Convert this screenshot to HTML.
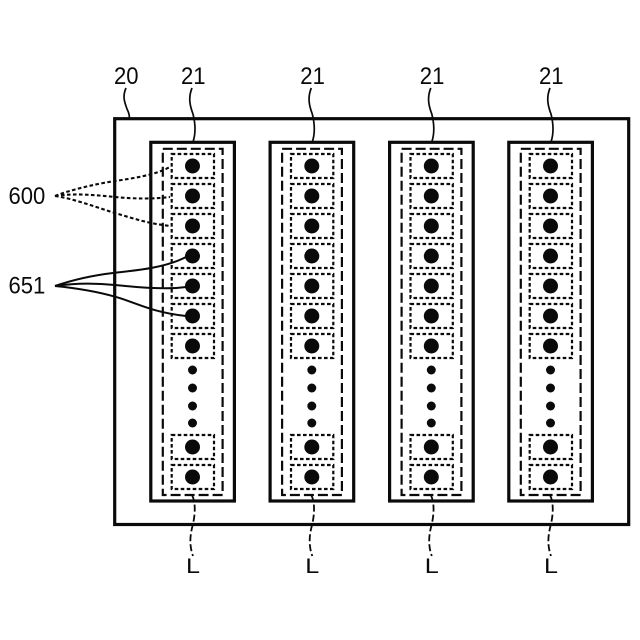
<!DOCTYPE html>
<html>
<head>
<meta charset="utf-8">
<style>
html,body{margin:0;padding:0;background:#fff}
svg{display:block}
text{font-family:"Liberation Sans",sans-serif;font-size:24px;fill:#0a0a0a}
</style>
</head>
<body>
<svg width="640" height="640" viewBox="0 0 640 640" xmlns="http://www.w3.org/2000/svg">
<defs>
<g id="cell">
<rect x="171.7" y="-12" width="42.3" height="24" fill="none" stroke="#0a0a0a" stroke-width="2.2" stroke-dasharray="3.6 2.4"/>
<circle cx="192.5" cy="0" r="7.5" fill="#0a0a0a"/>
</g>
<g id="col">
<rect x="150.8" y="142.3" width="83.6" height="358.7" fill="#fff" stroke="#0a0a0a" stroke-width="3.2"/>
<rect x="162.8" y="148.8" width="59.8" height="346.2" fill="none" stroke="#0a0a0a" stroke-width="2.2" stroke-dasharray="10 4"/>
<use href="#cell" y="166"/>
<use href="#cell" y="196"/>
<use href="#cell" y="226"/>
<use href="#cell" y="256"/>
<use href="#cell" y="286"/>
<use href="#cell" y="316"/>
<use href="#cell" y="346"/>
<use href="#cell" y="447"/>
<use href="#cell" y="477"/>
<circle cx="192.5" cy="370" r="4.5" fill="#0a0a0a"/>
<circle cx="192.5" cy="388" r="4.5" fill="#0a0a0a"/>
<circle cx="192.5" cy="406" r="4.5" fill="#0a0a0a"/>
<circle cx="192.5" cy="423" r="4.5" fill="#0a0a0a"/>
<path d="M192 88C188 98 190 106 193 114C195 122 196 133 193 142" fill="none" stroke="#0a0a0a" stroke-width="1.7"/>
<path d="M192 495C196 503 195 515 193 524C190 535 189 545 193 556" fill="none" stroke="#0a0a0a" stroke-width="1.8" stroke-dasharray="7 3"/>
<text transform="translate(181 84) scale(.92 1)">21</text>
<text transform="translate(186 573) scale(1.2 1)" style="font-size:21px">L</text>
</g>
</defs>
<rect x="114.7" y="118.7" width="514" height="405.8" fill="#fff" stroke="#0a0a0a" stroke-width="3.2"/>
<use href="#col"/>
<use href="#col" x="119.3"/>
<use href="#col" x="238.8"/>
<use href="#col" x="358"/>
<path d="M126 88C122 97 125 103 127 109C129 113 130 116 129 119" fill="none" stroke="#0a0a0a" stroke-width="1.7"/>
<text transform="translate(114 84) scale(.92 1)">20</text>
<text transform="translate(8.5 204) scale(.92 1)">600</text>
<text transform="translate(8.5 293.5) scale(.92 1)">651</text>
<g fill="none" stroke="#0a0a0a" stroke-width="2.1" stroke-dasharray="3.6 2.4">
<path d="M55 196C70 190 95 184 115 181C135 178 155 175 170 167"/>
<path d="M55 196C75 193 95 195 115 197C135 199 155 199 170 197"/>
<path d="M55 196C75 199 95 207 115 213C135 219 150 224 171 226"/>
</g>
<g fill="none" stroke="#0a0a0a" stroke-width="2">
<path d="M55 286C75 279 95 275 115 272.7C135 270.5 165 268 186 257"/>
<path d="M55 286C75 283 95 283 115 285C135 287 165 290 186 287"/>
<path d="M55 286C75 288 95 291 115 296.7C135 302 150 312 186 316"/>
</g>
</svg>
</body>
</html>
